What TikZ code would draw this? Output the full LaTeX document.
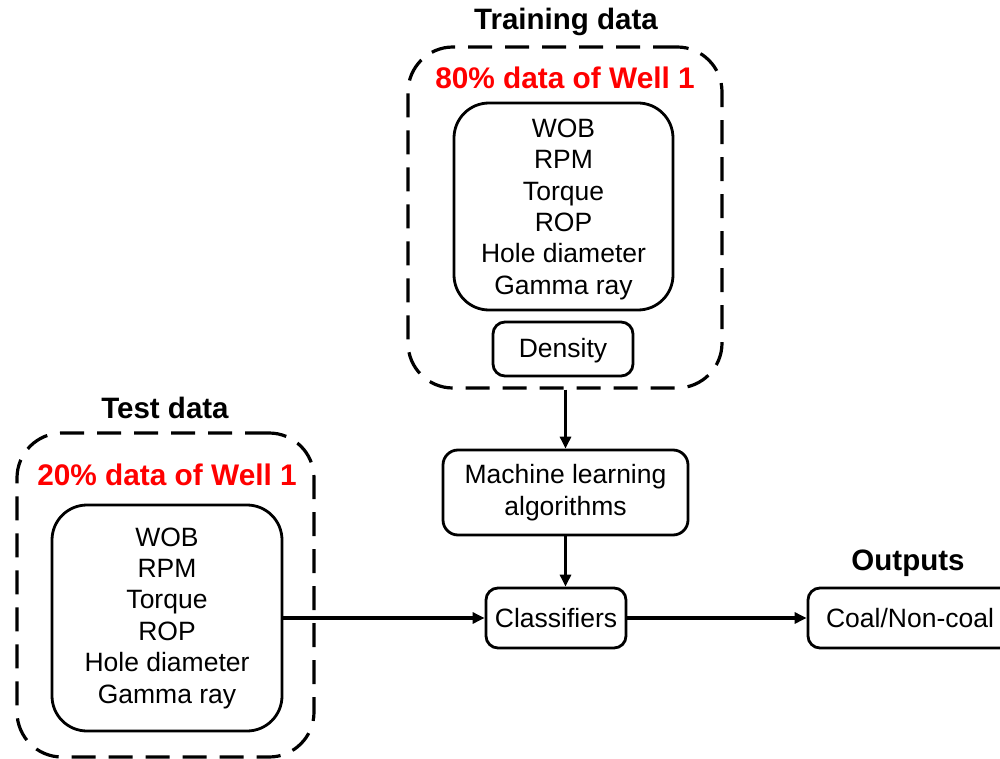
\documentclass[tikz,border=0pt]{standalone}
\usepackage{fontspec}
\setmainfont{Liberation Sans}
\usetikzlibrary{arrows.meta,positioning}

\begin{document}
\begin{tikzpicture}[x=1pt,y=-1pt,>={Triangle[length=12pt,width=11pt]},
	solidbox/.style={draw, line width=2.8pt, rounded corners=#1, align=center, inner sep=0pt, font=\fontsize{26.5}{31.4}\selectfont},
	solidbox/.default=12pt,
	dashbox/.style={draw, line width=3.2pt, dash pattern=on 24pt off 13pt, rounded corners=45pt, inner sep=0pt},
	heading/.style={font=\bfseries\fontsize{29.5}{32}\selectfont, inner sep=0pt},
	redlbl/.style={font=\bfseries\fontsize{29.8}{32}\selectfont, text=red, inner sep=0pt},
	link/.style={->, line width=3.2pt}]
		\useasboundingbox (0,0) rectangle (1000,759);
		\clip (0,0) rectangle (1000,759);

		% training data
		\node (train) at (565,217.5) [dashbox, minimum width=314pt, minimum height=341pt] {};
		\node (trainttl) at (566,22) [heading] {Training data};
		\node (trainpct) at (565,78) [redlbl] {80\% data of Well 1};
		\node (trainin) at (563.5,206.5) [solidbox=35pt, minimum width=219pt, minimum height=207pt, text depth=-3pt]
			{WOB\\RPM\\Torque\\ROP\\Hole diameter\\Gamma ray};
		\node (dens) at (563,349) [solidbox, minimum width=140pt, minimum height=54pt, text depth=2pt] {Density};

		% test data
		\node (test) at (165.5,595) [dashbox, minimum width=297pt, minimum height=324pt] {};
		\node (testttl) at (165,408) [heading] {Test data};
		\node (testpct) at (167,475) [redlbl] {20\% data of Well 1};
		\node (testin) at (167,618) [solidbox=35pt, minimum width=230pt, minimum height=226pt]
			{WOB\\RPM\\Torque\\ROP\\Hole diameter\\Gamma ray};

		% model and outputs
		\node (ml) at (565.5,492.5) [solidbox=15pt, minimum width=245pt, minimum height=85pt] {Machine learning\\algorithms};
		\node (cls) at (556,618) [solidbox, minimum width=140pt, minimum height=60pt] {Classifiers};
		\node (coal) at (910,618) [solidbox, minimum width=204pt, minimum height=60pt] {Coal/Non-coal};
		\node (outttl) at (908,563) [heading] {Outputs};

		\draw [link] (train.south -| ml.north) -- (ml.north);
		\draw [link] (ml.south) -- (cls.north -| ml.south);
		\draw [link] (testin.east) -- (cls.west);
		\draw [link] (cls.east) -- (coal.west);
	\end{tikzpicture}
\end{document}
